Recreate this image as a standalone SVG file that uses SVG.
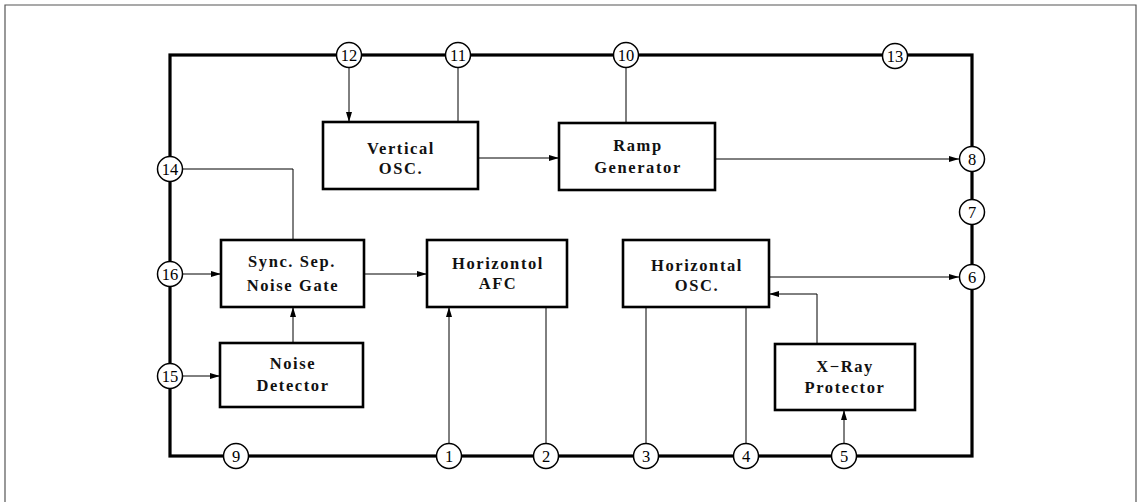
<svg xmlns="http://www.w3.org/2000/svg" width="1143" height="502" viewBox="0 0 1143 502">
<style>
.frame{fill:none;stroke:#555;stroke-width:1.2}
.chip{fill:none;stroke:#000;stroke-width:3.2;stroke-linejoin:miter}
.box{fill:#fff;stroke:#000;stroke-width:2.6}
.pin{fill:#fff;stroke:#000;stroke-width:1.5}
.w{fill:none;stroke:#000;stroke-width:1}
.t{font-family:"Liberation Serif","DejaVu Serif",serif;font-size:16.5px;font-weight:bold;letter-spacing:1.6px;text-anchor:middle;fill:#111}
.p{font-family:"Liberation Serif","DejaVu Serif",serif;font-size:16.5px;text-anchor:middle;fill:#000}
</style>
<defs>
<marker id="a" viewBox="0 0 10 6" refX="10" refY="3" markerWidth="10" markerHeight="6" markerUnits="userSpaceOnUse" orient="auto">
<path d="M0,0 L10,3 L0,6 Z" fill="#000"/>
</marker>
</defs>
<rect width="1143" height="502" fill="#fff"/>
<path class="frame" d="M5,502 V5 H1136 V502"/>
<rect class="chip" x="170" y="55" width="802" height="401"/>
<g id="connectors">
<path class="w" d="M349,67 V122" marker-end="url(#a)"/>
<path class="w" d="M458,67 V122"/>
<path class="w" d="M478,158 H559" marker-end="url(#a)"/>
<path class="w" d="M626,67 V123"/>
<path class="w" d="M715,159 H959" marker-end="url(#a)"/>
<path class="w" d="M182,169 H293 V240"/>
<path class="w" d="M182,274 H221" marker-end="url(#a)"/>
<path class="w" d="M293,343 V307" marker-end="url(#a)"/>
<path class="w" d="M182,376 H220" marker-end="url(#a)"/>
<path class="w" d="M364,274 H427" marker-end="url(#a)"/>
<path class="w" d="M449,444 V307" marker-end="url(#a)"/>
<path class="w" d="M546,444 V307"/>
<path class="w" d="M646,444 V307"/>
<path class="w" d="M746,444 V307"/>
<path class="w" d="M769,277 H959" marker-end="url(#a)"/>
<path class="w" d="M817,344 V294 H769" marker-end="url(#a)"/>
<path class="w" d="M844,444 V410" marker-end="url(#a)"/>
</g>
<g id="vosc"><rect class="box" x="323" y="122" width="155" height="67"/><text class="t" x="401" y="154">Vertical</text><text class="t" x="401" y="174">OSC.</text></g>
<g id="ramp"><rect class="box" x="559" y="123" width="156" height="67"/><text class="t" x="638" y="151">Ramp</text><text class="t" x="638" y="173">Generator</text></g>
<g id="sync"><rect class="box" x="221" y="240" width="143" height="67"/><text class="t" x="292" y="267">Sync. Sep.</text><text class="t" x="293" y="291">Noise Gate</text></g>
<g id="noise"><rect class="box" x="220" y="343" width="143" height="64"/><text class="t" x="293" y="369">Noise</text><text class="t" x="293" y="391">Detector</text></g>
<g id="afc"><rect class="box" x="427" y="240" width="140" height="67"/><text class="t" x="498" y="269">Horizontol</text><text class="t" x="498" y="289">AFC</text></g>
<g id="hosc"><rect class="box" x="623" y="240" width="146" height="67"/><text class="t" x="697" y="271">Horizontal</text><text class="t" x="697" y="291">OSC.</text></g>
<g id="xray"><rect class="box" x="775" y="344" width="140" height="66"/><text class="t" x="845" y="372">X−Ray</text><text class="t" x="845" y="393">Protector</text></g>
<g id="pins">
<g id="pin12"><circle class="pin" cx="349" cy="55" r="12.5"/><text class="p" x="349" y="61">12</text></g>
<g id="pin11"><circle class="pin" cx="458" cy="55" r="12.5"/><text class="p" x="458" y="61">11</text></g>
<g id="pin10"><circle class="pin" cx="626" cy="55" r="12.5"/><text class="p" x="626" y="61">10</text></g>
<g id="pin13"><circle class="pin" cx="895" cy="56" r="12.5"/><text class="p" x="895" y="62">13</text></g>
<g id="pin8"><circle class="pin" cx="972" cy="159" r="12.5"/><text class="p" x="972" y="165">8</text></g>
<g id="pin7"><circle class="pin" cx="972" cy="212" r="12.5"/><text class="p" x="972" y="218">7</text></g>
<g id="pin6"><circle class="pin" cx="972" cy="277" r="12.5"/><text class="p" x="972" y="283">6</text></g>
<g id="pin14"><circle class="pin" cx="170" cy="169" r="12.5"/><text class="p" x="170" y="175">14</text></g>
<g id="pin16"><circle class="pin" cx="170" cy="274" r="12.5"/><text class="p" x="170" y="280">16</text></g>
<g id="pin15"><circle class="pin" cx="170" cy="376" r="12.5"/><text class="p" x="170" y="382">15</text></g>
<g id="pin9"><circle class="pin" cx="236" cy="456" r="12.5"/><text class="p" x="236" y="462">9</text></g>
<g id="pin1"><circle class="pin" cx="449" cy="456" r="12.5"/><text class="p" x="449" y="462">1</text></g>
<g id="pin2"><circle class="pin" cx="546" cy="456" r="12.5"/><text class="p" x="546" y="462">2</text></g>
<g id="pin3"><circle class="pin" cx="646" cy="456" r="12.5"/><text class="p" x="646" y="462">3</text></g>
<g id="pin4"><circle class="pin" cx="746" cy="456" r="12.5"/><text class="p" x="746" y="462">4</text></g>
<g id="pin5"><circle class="pin" cx="844" cy="456" r="12.5"/><text class="p" x="844" y="462">5</text></g>
</g>
</svg>
